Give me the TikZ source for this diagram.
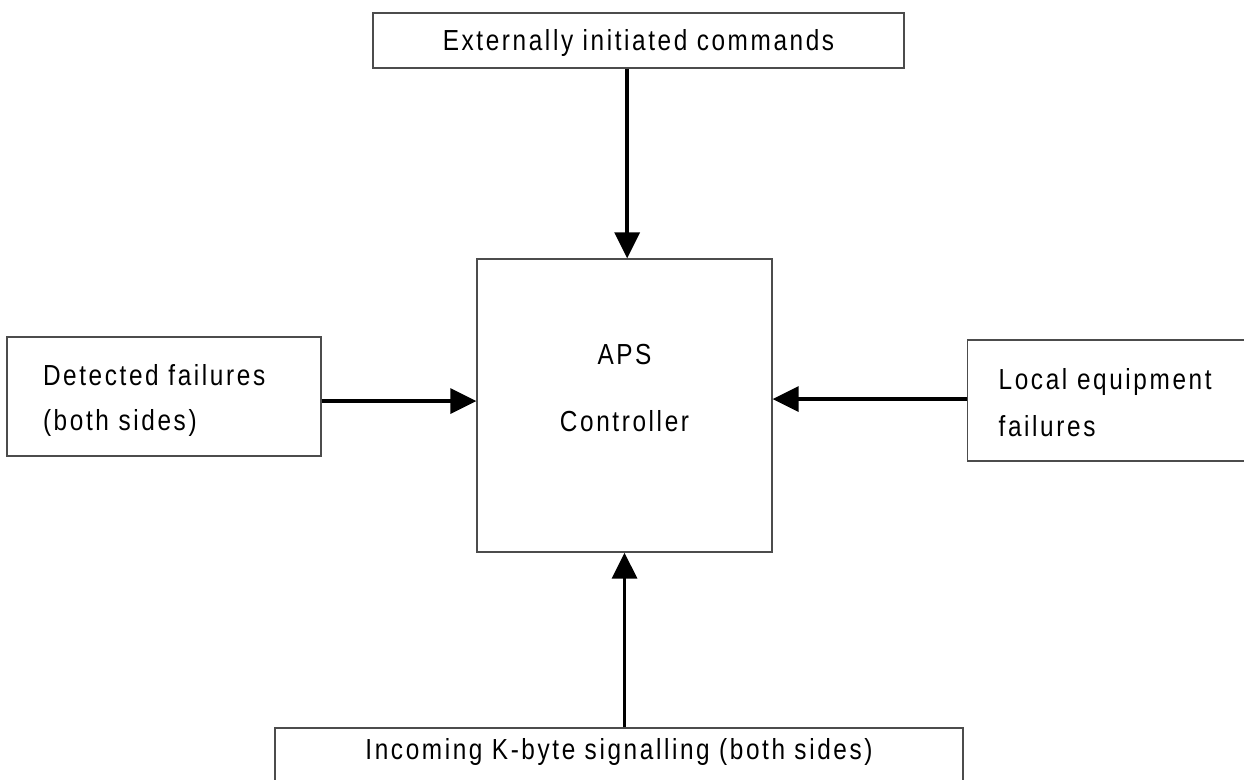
\documentclass[tikz,border=0pt]{standalone}
\usepackage{fontspec}
\setmainfont{Liberation Sans}[FakeStretch=0.84, LetterSpace=9]
\usetikzlibrary{arrows.meta}

\tikzset{
  box/.style={draw=black!70, line width=1pt, rectangle, inner sep=0pt,
    font=\fontsize{21.75pt}{33.75pt}\selectfont, text height=15.6pt},
  flow/.style={draw=black, line width=2.6pt,
    -{Triangle[length=19.5pt, width=18.75pt]}}
}

\begin{document}
\begin{tikzpicture}[x=0.75pt, y=-0.75pt]
  \useasboundingbox (0,0) rectangle (1244,779);
  \clip (0,0) rectangle (1244,779);

  % central controller
  \node[box, minimum width=221.25pt, minimum height=219.75pt,
        align=center, text height=39pt, text depth=0pt,
        font=\fontsize{21.75pt}{50.25pt}\selectfont]
    (aps) at (624.5,405.5) {APS\\Controller};

  % inputs
  \node[box, minimum width=398.25pt, minimum height=41.25pt, text depth=0pt]
    (ext) at (638.5,40.5) {Externally initiated commands};

  \node[box, minimum width=235.5pt, minimum height=89.25pt,
        inner xsep=27pt, text width=181.5pt, align=left, text depth=32.85pt]
    (det) at (164,396.5) {Detected failures\\(both sides)};

  \node[box, minimum width=234pt, minimum height=90.75pt,
        inner xsep=23.25pt, text width=188pt, align=left, text depth=32.85pt,
        font=\fontsize{21.75pt}{35.25pt}\selectfont]
    (loc) at (1124,400.5) {Local equipment\\failures};

  \node[box, minimum width=516pt, minimum height=48pt, text depth=16.35pt]
    (kbyte) at (619,760) {Incoming K-byte signalling (both sides)};

  % arrow entry points on the controller
  \coordinate (topin) at ([xshift=2pt]aps.north);
  \coordinate (leftin) at ([yshift=-3.4pt]det.east -| aps.west);
  \coordinate (rightin) at ([yshift=1.1pt]loc.west -| aps.east);

  % connectors into the controller
  \draw[flow] (ext.south -| topin) -- (topin);
  \draw[flow] (kbyte.north -| aps.south) -- (aps.south);
  \draw[flow] (det.east |- leftin) -- (leftin);
  \draw[flow] (loc.west |- rightin) -- (rightin);
\end{tikzpicture}
\end{document}
